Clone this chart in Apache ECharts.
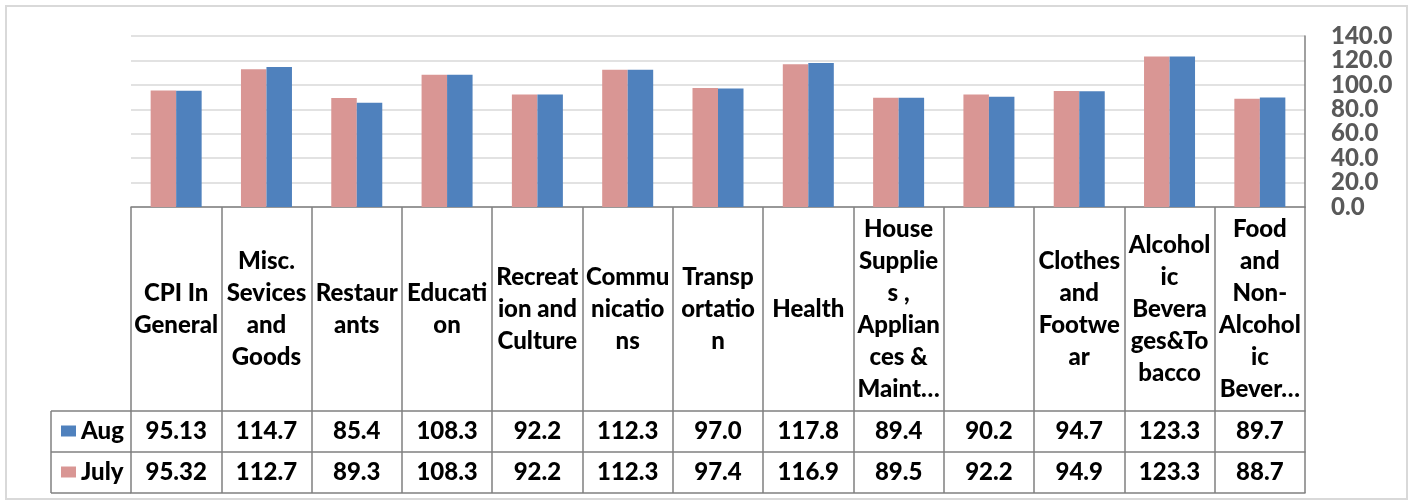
<!DOCTYPE html>
<html>
<head>
<meta charset="utf-8">
<script src="https://cdn.jsdelivr.net/npm/echarts@6/dist/echarts.min.js"></script>
<style>
  html, body { margin: 0; padding: 0; background: #fff; }
  #chart { width: 1414px; height: 502px; }
</style>
</head>
<body>
<div id="chart"></div>
<script>
// category names, wrapped the way the data table shows them
const categories = [
    'CPI In\nGeneral', 'Misc.\nSevices\nand\nGoods', 'Restaur\nants', 'Educati\non',
    'Recreat\nion and\nCulture', 'Commu\nnicatio\nns', 'Transp\nortatio\nn', 'Health',
    'House\nSupplie\ns ,\nApplian\nces &\nMaint…', '', 'Clothes\nand\nFootwe\nar',
    'Alcohol\nic\nBevera\nges&To\nbacco', 'Food\nand\nNon-\nAlcohol\nic\nBever…'
]
const aug = [95.13, 114.7, 85.4, 108.3, 92.2, 112.3, 97.0, 117.8, 89.4, 90.2, 94.7, 123.3, 89.7]
const july = [95.32, 112.7, 89.3, 108.3, 92.2, 112.3, 97.4, 116.9, 89.5, 92.2, 94.9, 123.3, 88.7]
const yMin = 0
const yMax = 140
const yStep = 20

const font = 'Lato'
const weight = 900
const lineColor = '#808080'
const pink = '#d99694'
const blue = '#4f81bd'

// one decimal unless the value really has two (95.13)
const fmt = (v) => Math.abs(v * 10 - Math.round(v * 10)) < 1e-6 ? v.toFixed(1) : v.toFixed(2)

const tableAxis = (offset, rowH, values) => ({
    type: 'category',
    data: categories,
    position: 'bottom',
    offset: offset,
    axisLine: {show: true, lineStyle: {color: lineColor, width: 1.5}},
    axisTick: {show: rowH > 0, length: rowH, lineStyle: {color: lineColor, width: 1.5}},
    axisLabel: {
        show: !!values,
        interval: 0,
        margin: rowH / 2,
        verticalAlign: 'middle',
        fontFamily: font,
        fontWeight: weight,
        fontSize: 24,
        color: '#000',
        formatter: (val, i) => values ? fmt(values[i]) : ''
    }
})

const myChart = echarts.init(document.getElementById('chart'))
const option = {
    animation: false,
    grid: {
        left: 131,
        right: 109,
        top: 36,
        bottom: 295,
        outerBoundsMode: 'none'
    },
    legend: {
        data: ['Aug', 'July'],
        orient: 'vertical',
        left: 61,
        top: 419,
        padding: 0,
        itemWidth: 15,
        itemHeight: 11,
        itemGap: 17,
        icon: 'rect',
        textStyle: {fontFamily: font, fontWeight: weight, fontSize: 24, lineHeight: 24, color: '#000'}
    },
    xAxis: [
        {
            type: 'category',
            data: categories,
            position: 'bottom',
            axisLine: {show: true, lineStyle: {color: lineColor, width: 1.5}},
            axisTick: {show: true, length: 204, lineStyle: {color: lineColor, width: 1.5}},
            axisLabel: {
                interval: 0,
                margin: 102,
                verticalAlign: 'middle',
                fontFamily: font,
                fontWeight: weight,
                fontSize: 24,
                lineHeight: 32,
                color: '#000'
            }
        },
        tableAxis(204, 41, aug),
        tableAxis(245, 41, july),
        tableAxis(286, 0, null)
    ],
    yAxis: {
        type: 'value',
        position: 'right',
        min: yMin,
        max: yMax,
        interval: yStep,
        axisLine: {show: true, lineStyle: {color: lineColor, width: 1.5}},
        axisTick: {show: false},
        splitLine: {lineStyle: {color: '#d9d9d9', width: 1.5}},
        axisLabel: {
            margin: 26,
            fontFamily: font,
            fontWeight: weight,
            fontSize: 24,
            color: '#595959',
            formatter: (v) => v.toFixed(1)
        }
    },
    series: [
        {name: 'July', type: 'bar', data: july, barWidth: 25.5, barGap: '0%', itemStyle: {color: pink}},
        {name: 'Aug', type: 'bar', data: aug, barWidth: 25.5, barGap: '0%', itemStyle: {color: blue}}
    ],
    graphic: [
        // chart frame
        {type: 'rect', shape: {x: 6, y: 6, width: 1401, height: 493}, style: {fill: null, stroke: '#d9d9d9', lineWidth: 2}},
        // legend column of the data table
        {type: 'line', shape: {x1: 51, y1: 411, x2: 131, y2: 411}, style: {stroke: lineColor, lineWidth: 1.5}},
        {type: 'line', shape: {x1: 51, y1: 452, x2: 131, y2: 452}, style: {stroke: lineColor, lineWidth: 1.5}},
        {type: 'line', shape: {x1: 51, y1: 493, x2: 131, y2: 493}, style: {stroke: lineColor, lineWidth: 1.5}},
        {type: 'line', shape: {x1: 51, y1: 411, x2: 51, y2: 493}, style: {stroke: lineColor, lineWidth: 1.5}}
    ]
}
myChart.setOption(option)
</script>
</body>
</html>
